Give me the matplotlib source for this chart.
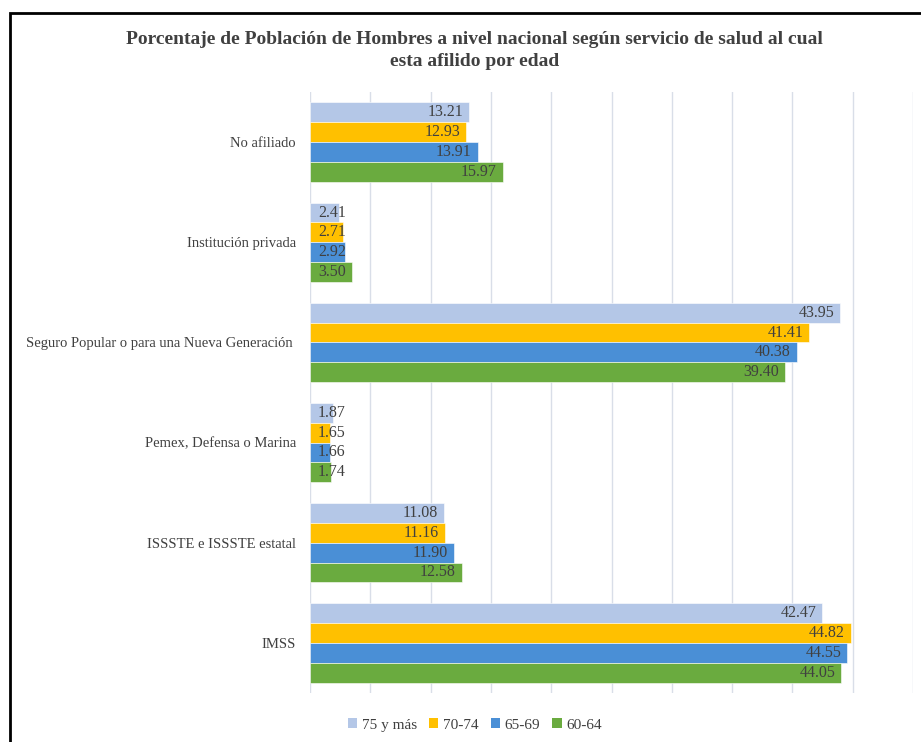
import numpy as np
import matplotlib.pyplot as plt
from matplotlib.patches import Rectangle, Patch

plt.rcParams['font.family'] = ['Liberation Serif', 'DejaVu Serif']

categorias = ['No afiliado', 'Institución privada',
              'Seguro Popular o para una Nueva Generación ',
              'Pemex, Defensa o Marina', 'ISSSTE e ISSSTE estatal', 'IMSS']
series = ['75 y más', '70-74', '65-69', '60-64']
v75 = [13.21, 2.41, 43.95, 1.87, 11.08, 42.47]
v70 = [12.93, 2.71, 41.41, 1.65, 11.16, 44.82]
v65 = [13.91, 2.92, 40.38, 1.66, 11.90, 44.55]
v60 = [15.97, 3.50, 39.40, 1.74, 12.58, 44.05]
colores = ['#B4C7E7', '#FFC000', '#4A8FD6', '#6AAB3F']

texto = '#404040'
fig = plt.figure(figsize=(9.21, 7.42), dpi=100)
ax = fig.add_axes([310/921, 1-693/742, 603/921, 601/742])

y = np.arange(len(categorias))
h = 0.198
for i, (vals, col) in enumerate(zip([v75, v70, v65, v60], colores)):
    pos = y + (i - 1.5)*h
    ax.barh(pos, vals, height=h, color=col, edgecolor='white', linewidth=0.4, zorder=2)
    for p, v in zip(pos, vals):
        if v < 5:
            ax.text(0.65, p, f'{v:.2f}', ha='left', va='center', fontsize=11.5, color=texto, zorder=3)
        else:
            ax.text(v - 0.5, p, f'{v:.2f}', ha='right', va='center', fontsize=11.5, color=texto, zorder=3)

ax.set_xlim(0, 50)
ax.set_ylim(5.5, -0.5)
ax.set_xticks(np.arange(0, 51, 5))
ax.set_xticklabels([])
ax.set_yticks(y)
ax.set_yticklabels(categorias, fontsize=10.5, color=texto)
ax.tick_params(length=0, pad=10)
ax.grid(axis='x', color='#D9DEE8', linewidth=1, zorder=0)
for s in ax.spines.values():
    s.set_visible(False)

fig.text(0.515, 1-40/742, 'Porcentaje de Población de Hombres a nivel nacional según servicio de salud al cual',
         ha='center', va='center', fontsize=14, fontweight='bold', color=texto)
fig.text(0.515, 1-61/742, 'esta afilido por edad',
         ha='center', va='center', fontsize=14, fontweight='bold', color=texto)

handles = [Patch(facecolor=c) for c in colores]
fig.legend(handles, series, loc='center', bbox_to_anchor=(475/921, 1-725/742), ncol=4,
           frameon=False, fontsize=11, handlelength=0.6, handleheight=0.6,
           handletextpad=0.3, columnspacing=0.8, labelcolor=texto)

fig.patches.append(Rectangle((10/921, -0.05), 1.0, 1-13/742+0.05, transform=fig.transFigure,
                             fill=False, edgecolor='black', linewidth=2))

fig.savefig('out.png', dpi=100)
